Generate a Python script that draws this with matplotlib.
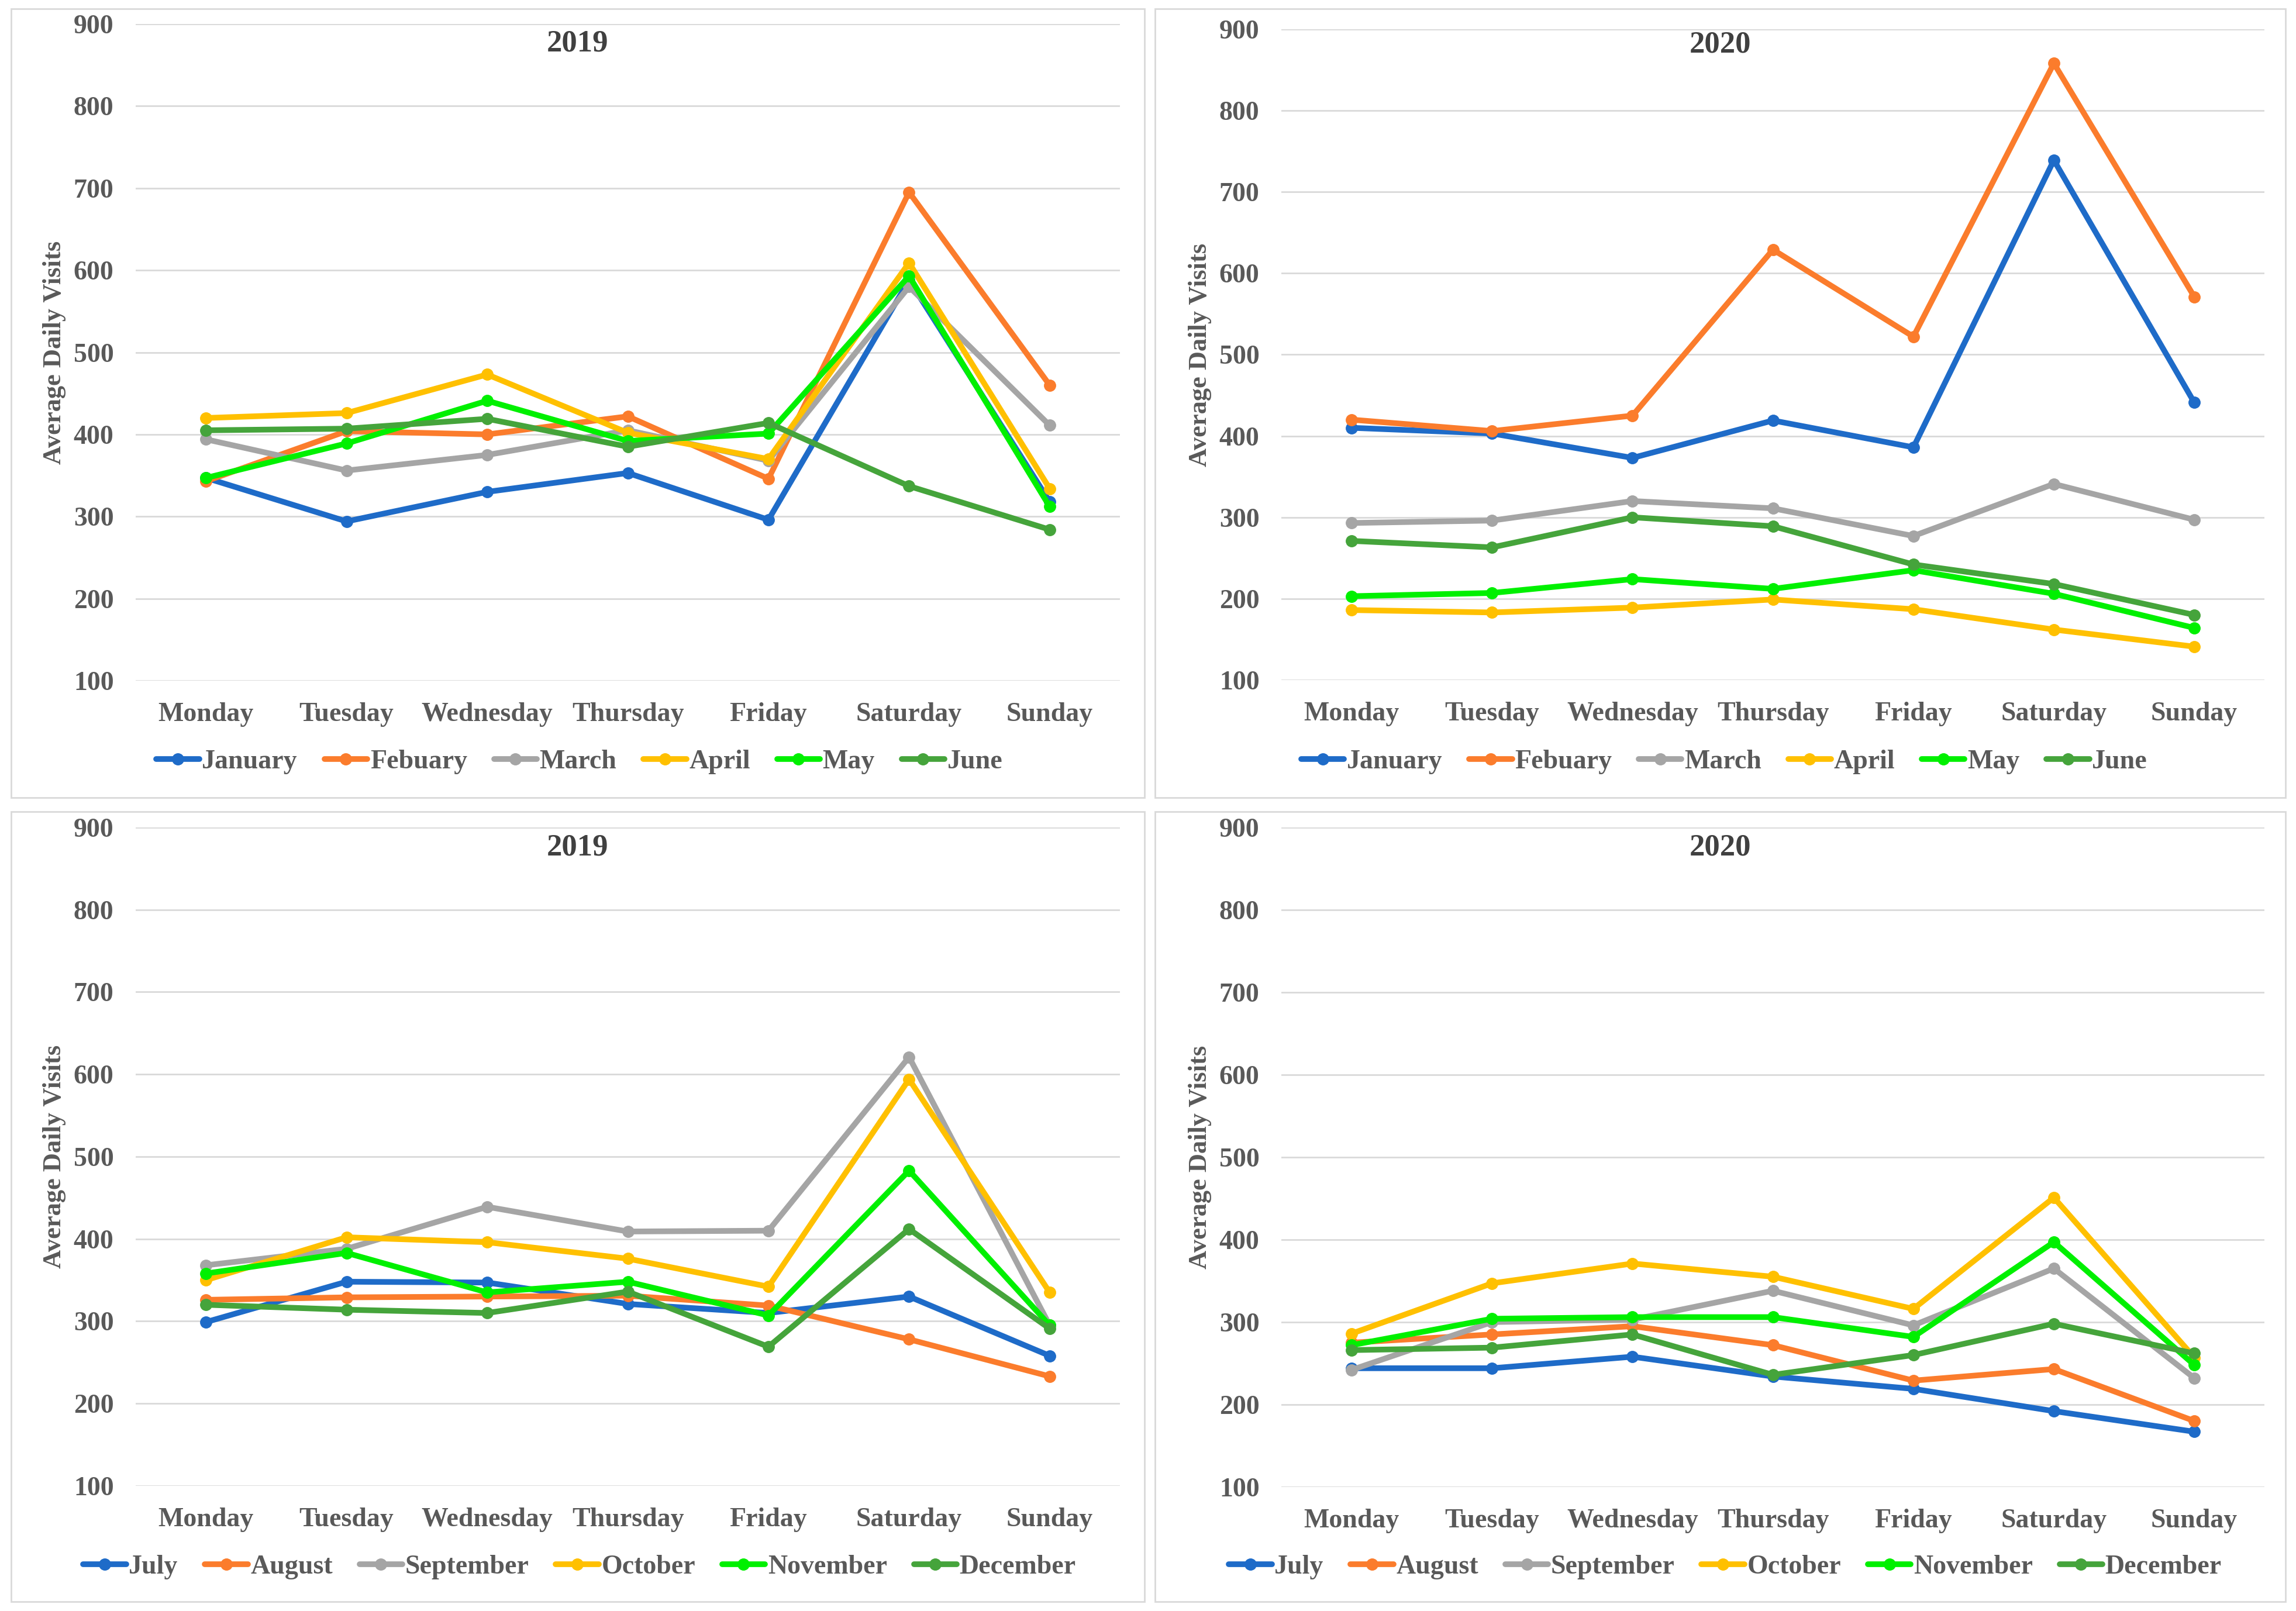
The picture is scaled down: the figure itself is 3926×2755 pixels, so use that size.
import matplotlib
matplotlib.use("Agg")
import matplotlib.pyplot as plt
from matplotlib.patches import Rectangle

plt.rcParams['font.family'] = ['Liberation Serif', 'DejaVu Serif']
plt.rcParams['font.weight'] = 'bold'

days = ['Monday', 'Tuesday', 'Wednesday', 'Thursday', 'Friday', 'Saturday', 'Sunday']
months_h1 = ['January', 'Febuary', 'March', 'April', 'May', 'June']
months_h2 = ['July', 'August', 'September', 'October', 'November', 'December']
colors = ['#1E6BC8', '#FB7C2C', '#A5A5A5', '#FFC000', '#00F000', '#45A43B']
yticks = [100, 200, 300, 400, 500, 600, 700, 800, 900]

# 2019, January - June
visits_2019_h1 = [
    [347, 294, 330, 353, 296, 588, 318],
    [343, 404, 400, 422, 346, 695, 460],
    [394, 356, 375, 405, 368, 580, 411],
    [420, 426, 473, 402, 370, 609, 334],
    [347, 389, 441, 392, 401, 593, 312],
    [405, 407, 419, 385, 414, 337, 284],
]
# 2020, January - June
visits_2020_h1 = [
    [410, 403, 373, 419, 386, 739, 441],
    [420, 406, 425, 629, 522, 858, 571],
    [293, 296, 320, 311, 277, 341, 297],
    [186, 183, 189, 199, 187, 162, 141],
    [203, 207, 224, 212, 235, 206, 164],
    [271, 263, 300, 289, 242, 218, 180],
]
# 2019, July - December
visits_2019_h2 = [
    [299, 348, 347, 321, 310, 330, 258],
    [326, 329, 330, 331, 319, 278, 233],
    [368, 388, 439, 409, 410, 621, 295],
    [350, 402, 396, 376, 342, 594, 335],
    [358, 383, 335, 348, 307, 483, 295],
    [320, 314, 310, 336, 269, 412, 291],
]
# 2020, July - December
visits_2020_h2 = [
    [244, 244, 258, 234, 219, 192, 167],
    [275, 285, 295, 272, 229, 243, 180],
    [242, 300, 303, 338, 296, 365, 232],
    [286, 347, 371, 355, 316, 451, 257],
    [272, 304, 306, 306, 282, 397, 248],
    [266, 269, 285, 236, 260, 298, 262],
]

# title, months, data, axes rect, panel box, legend pos, title y
panels = [
    ('2019', months_h1, visits_2019_h1, [0.0591, 0.5775, 0.4287, 0.4076], (0.0048, 0.5049, 0.4936, 0.4897), (0.2524, 0.527), 0.9728),
    ('2020', months_h1, visits_2020_h1, [0.5581, 0.5779, 0.4282, 0.4040], (0.5030, 0.5049, 0.4924, 0.4897), (0.7510, 0.527), 0.9722),
    ('2019', months_h2, visits_2019_h2, [0.0591, 0.0777, 0.4287, 0.4087], (0.0048, 0.0058, 0.4936, 0.4904), (0.2524, 0.0272), 0.4737),
    ('2020', months_h2, visits_2020_h2, [0.5581, 0.0770, 0.4282, 0.4094], (0.5030, 0.0058, 0.4924, 0.4904), (0.7514, 0.0272), 0.4737),
]

fig = plt.figure(figsize=(39.26, 27.55), dpi=100)

for title, months, data, rect, box, leg_pos, title_y in panels:
    fig.add_artist(Rectangle(box[:2], box[2], box[3], transform=fig.transFigure,
                             fill=False, ec='#D9D9D9', lw=2))
    ax = fig.add_axes(rect)
    x = range(len(days))
    for name, vals, c in zip(months, data, colors):
        ax.plot(x, vals, color=c, lw=7, marker='o', markersize=14, label=name,
                solid_capstyle='round')
    ax.set_xlim(-0.5, 6.5)
    ax.set_ylim(100, 900)
    ax.set_yticks(yticks)
    ax.set_xticks(list(x))
    ax.set_xticklabels(days)
    ax.yaxis.grid(True, color='#D9D9D9', lw=2)
    ax.set_axisbelow(True)
    for s in ax.spines.values():
        s.set_visible(False)
    ax.tick_params(axis='both', length=0, labelsize=33, labelcolor='#595959')
    ax.tick_params(axis='x', pad=27)
    ax.tick_params(axis='y', pad=27)
    ax.set_ylabel('Average Daily Visits', fontsize=32, fontweight='bold', color='#595959')
    ax.yaxis.set_label_coords(-0.071, 0.5)
    fig.text(box[0] + box[2] / 2, title_y, title, ha='center', va='center',
             fontsize=38, fontweight='bold', color='#404040')
    h, l = ax.get_legend_handles_labels()
    fig.legend(h, l, loc='center', bbox_to_anchor=leg_pos, ncol=6, frameon=False,
               handlelength=1.6, handletextpad=0.1, columnspacing=1.0,
               prop={'size': 33, 'weight': 'bold'}, labelcolor='#595959')

fig.savefig('out.png', dpi=100, facecolor='white')
